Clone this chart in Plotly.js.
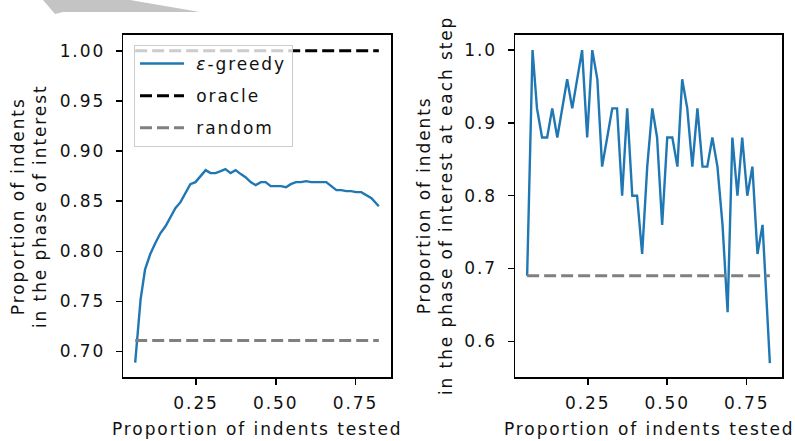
<!DOCTYPE html>
<html>
<head>
<meta charset="utf-8">
<script src="https://cdn.plot.ly/plotly-3.0.1.min.js"></script>
<style>
html,body{margin:0;padding:0;background:#fff;}
#chart{width:795px;height:441px;}
svg text{letter-spacing:1.9px;}
</style>
</head>
<body>
<div id="chart"></div>
<script>
// Proportion of indents tested (shared x positions)
const xTested = [0.059, 0.076, 0.090, 0.106, 0.122, 0.138, 0.154, 0.169, 0.185, 0.201,
  0.216, 0.232, 0.248, 0.264, 0.280, 0.295, 0.311, 0.327, 0.342, 0.358,
  0.374, 0.390, 0.405, 0.421, 0.437, 0.453, 0.468, 0.484, 0.500, 0.516,
  0.532, 0.547, 0.563, 0.579, 0.595, 0.611, 0.626, 0.642, 0.658, 0.674,
  0.690, 0.705, 0.721, 0.736, 0.752, 0.768, 0.784, 0.800, 0.823];

// Left panel: cumulative proportion in the phase of interest (epsilon-greedy)
const greedyCumulative = [0.689, 0.752, 0.782, 0.797, 0.808, 0.818, 0.825, 0.833, 0.843, 0.849,
  0.857, 0.867, 0.869, 0.875, 0.881, 0.878, 0.878, 0.880, 0.882, 0.878,
  0.881, 0.877, 0.874, 0.869, 0.866, 0.869, 0.869, 0.865, 0.865, 0.865,
  0.864, 0.867, 0.869, 0.869, 0.870, 0.869, 0.869, 0.869, 0.869, 0.865,
  0.861, 0.861, 0.860, 0.860, 0.859, 0.859, 0.856, 0.853, 0.845];

// Right panel: proportion in the phase of interest at each step
const greedyStep = [0.69, 1.00, 0.92, 0.88, 0.88, 0.92, 0.88, 0.92, 0.96, 0.92,
  0.96, 1.00, 0.88, 1.00, 0.96, 0.84, 0.88, 0.92, 0.92, 0.80,
  0.92, 0.80, 0.80, 0.72, 0.84, 0.92, 0.88, 0.76, 0.88, 0.88,
  0.84, 0.96, 0.92, 0.84, 0.92, 0.84, 0.84, 0.88, 0.84, 0.76,
  0.64, 0.88, 0.80, 0.88, 0.80, 0.84, 0.72, 0.76, 0.57];

const oracleLevel = 1.0;
const randomLeft = 0.711;
const randomRight = 0.69;

const seriesNames = ['\u00a0<i>ε</i>-greedy', '\u00a0oracle', '\u00a0random'];
const xTickVals = [0.25, 0.50, 0.75];
const leftYTicks = [0.70, 0.75, 0.80, 0.85, 0.90, 0.95, 1.00];
const rightYTicks = [0.6, 0.7, 0.8, 0.9, 1.0];
const xLabel = 'Proportion of indents tested';
const leftYLabel = 'Proportion of indents<br>in the phase of interest';
const rightYLabel = 'Proportion of indents<br>in the phase of interest at each step';

const BLUE = '#1f77b4', BLACK = '#000000', GRAY = '#808080';
const xEnds = [xTested[0], xTested[xTested.length - 1]];
const dash = '12px,5px';

const traces = [
  {x: xTested, y: greedyCumulative, type: 'scatter', mode: 'lines', name: seriesNames[0],
   line: {color: BLUE, width: 2.4}, xaxis: 'x', yaxis: 'y', legendgroup: 'g1'},
  {x: xEnds, y: [oracleLevel, oracleLevel], type: 'scatter', mode: 'lines', name: seriesNames[1],
   line: {color: BLACK, width: 3, dash: dash}, xaxis: 'x', yaxis: 'y', legendgroup: 'g2'},
  {x: xEnds, y: [randomLeft, randomLeft], type: 'scatter', mode: 'lines', name: seriesNames[2],
   line: {color: GRAY, width: 3, dash: dash}, xaxis: 'x', yaxis: 'y', legendgroup: 'g3'},
  {x: xTested, y: greedyStep, type: 'scatter', mode: 'lines', showlegend: false,
   line: {color: BLUE, width: 2.4}, xaxis: 'x2', yaxis: 'y2'},
  {x: xEnds, y: [randomRight, randomRight], type: 'scatter', mode: 'lines', showlegend: false,
   line: {color: GRAY, width: 3, dash: dash}, xaxis: 'x2', yaxis: 'y2'}
];

const W = 795, H = 441;
const font = {family: 'DejaVu Sans', size: 17, color: '#111'};
const axisCommon = {
  showgrid: false, zeroline: false, showline: true, mirror: true,
  linecolor: '#000', linewidth: 1.5, ticks: 'outside', ticklen: 6, tickwidth: 1.5,
  tickcolor: '#000', tickfont: font
};
const yDomain = [(H - 377) / H, (H - 34.5) / H];

const layout = {
  width: W, height: H,
  margin: {l: 0, r: 0, t: 0, b: 0},
  paper_bgcolor: '#fff', plot_bgcolor: '#fff',
  font: font,
  showlegend: true,
  legend: {
    x: 134 / W, y: (H - 45) / H, xanchor: 'left', yanchor: 'top',
    bgcolor: 'rgba(255,255,255,0.8)', bordercolor: '#cccccc', borderwidth: 1,
    font: font, tracegroupgap: 7, itemwidth: 44
  },
  xaxis: Object.assign({}, axisCommon, {domain: [123 / W, 391 / W], range: [0.0208, 0.8612],
    tickvals: xTickVals, tickformat: '.2f', anchor: 'y', ticklabelstandoff: 4}),
  yaxis: Object.assign({}, axisCommon, {domain: yDomain, range: [0.6746, 1.0163],
    tickvals: leftYTicks, tickformat: '.2f', anchor: 'x', ticklabelstandoff: 7}),
  xaxis2: Object.assign({}, axisCommon, {domain: [515 / W, 782 / W], range: [0.0208, 0.8612],
    tickvals: xTickVals, tickformat: '.2f', anchor: 'y2', ticklabelstandoff: 4}),
  yaxis2: Object.assign({}, axisCommon, {domain: yDomain, range: [0.551, 1.0215],
    tickvals: rightYTicks, tickformat: '.1f', anchor: 'x2', ticklabelstandoff: 7}),
  annotations: [
    {text: xLabel, xref: 'paper', yref: 'paper', x: 257 / W, y: (H - 429) / H,
     xanchor: 'center', yanchor: 'middle', showarrow: false, font: font},
    {text: xLabel, xref: 'paper', yref: 'paper', x: 648.5 / W, y: (H - 429) / H,
     xanchor: 'center', yanchor: 'middle', showarrow: false, font: font},
    {text: leftYLabel, xref: 'paper', yref: 'paper', x: 29 / W, y: (H - 206) / H,
     xanchor: 'center', yanchor: 'middle', showarrow: false, textangle: -90, font: font},
    {text: rightYLabel, xref: 'paper', yref: 'paper', x: 435 / W, y: (H - 206) / H,
     xanchor: 'center', yanchor: 'middle', showarrow: false, textangle: -90, font: font}
  ],
  shapes: [
    {type: 'path', xref: 'paper', yref: 'paper', layer: 'above',
     path: 'M ' + (43 / W) + ' 1 L ' + (130 / W) + ' 1 L ' + (200 / W) + ' ' + ((H - 12) / H) +
       ' L ' + (63 / W) + ' ' + ((H - 12) / H) + ' L ' + (55 / W) + ' ' + ((H - 14) / H) + ' Z',
     fillcolor: '#c4c4c4', line: {width: 0}}
  ]
};

Plotly.newPlot('chart', traces, layout, {displayModeBar: false, staticPlot: true});
</script>
</body>
</html>
